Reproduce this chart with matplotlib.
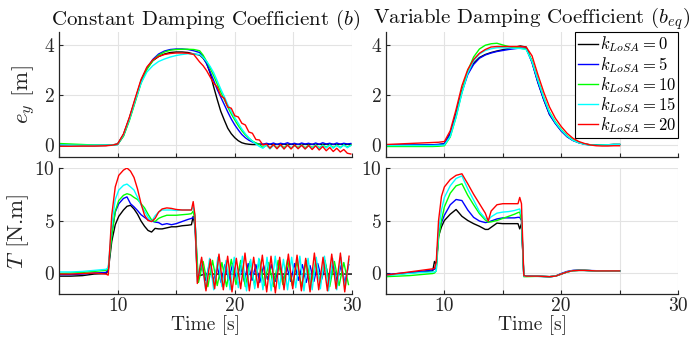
import numpy as np
import matplotlib
matplotlib.use("Agg")
import matplotlib.pyplot as plt

plt.rcParams.update({
    'font.family': 'serif',
    'font.serif': ['cmr10'],
    'mathtext.fontset': 'cm',
    'axes.formatter.use_mathtext': True,
    'axes.unicode_minus': False,
})

labels = [r'$k_{LoSA}=0$', r'$k_{LoSA}=5$', r'$k_{LoSA}=10$', r'$k_{LoSA}=15$', r'$k_{LoSA}=20$']
colors = ['#000000', '#0000ff', '#00ff00', '#00ffff', '#ff0000']
titles = [r'Constant Damping Coefficient ($b$)', r'Variable Damping Coefficient ($b_{eq}$)']

# ---------------- e_y, constant damping ----------------
t_ey_const = [5, 6, 7, 8, 9, 9.5, 10, 10.5, 11, 11.5, 12, 12.5, 13, 13.5, 14, 14.5, 15, 15.5, 16, 16.5,
              17.0, 17.3, 17.6, 17.9, 18.2, 18.5, 18.8, 19.1, 19.4, 19.7, 20.0, 20.3, 20.6, 20.9, 21.2,
              21.5, 21.8, 22.1, 22.4, 22.7, 23.0, 23.3, 23.6, 23.9, 24.2, 24.5, 24.8, 25.1, 25.4, 25.7,
              26.0, 26.3, 26.6, 26.9, 27.2, 27.5, 27.8, 28.1, 28.4, 28.7, 29.0, 29.3, 29.6, 29.9]
ey_const_k0 = [-0.05, -0.05, -0.05, -0.05, -0.04, -0.02, 0.02, 0.4, 1.05, 1.8, 2.55, 3.05, 3.35, 3.52, 3.62, 3.68, 3.70, 3.70, 3.68, 3.62,
               3.58, 3.45, 3.25, 2.85, 2.3, 1.8, 1.33, 0.98, 0.65, 0.43, 0.27, 0.15, 0.07, 0.03, 0.01, 0.0,
               0.0, 0.01, 0.01, 0.01, 0.01, 0.01, 0.01, 0.01, 0.01, 0.01, 0.01, 0.01, 0.01, 0.01,
               0.01, 0.01, 0.01, 0.01, 0.01, 0.01, 0.01, 0.01, 0.01, 0.01, 0.01, 0.01, 0.01, 0.01]
ey_const_k5 = [-0.02, -0.03, -0.03, -0.03, -0.03, -0.02, 0.0, 0.35, 1.0, 1.75, 2.5, 3.05, 3.4, 3.62, 3.74, 3.8, 3.82, 3.82, 3.8, 3.75,
               3.68, 3.5, 3.22, 2.9, 2.56, 2.2, 1.9, 1.6, 1.3, 1.02, 0.78, 0.58, 0.4, 0.27, 0.17, 0.1, 0.05, 0.02,
               0.0, 0.05, 0.01, 0.06, 0.0, 0.05, 0.02, 0.07, 0.01, 0.05, 0.0, 0.06, 0.02, 0.05, 0.0, 0.06,
               0.01, 0.07, 0.02, 0.05, 0.0, 0.06, 0.01, 0.05, 0.02, 0.04]
ey_const_k10 = [0.04, 0.02, 0.0, -0.02, -0.03, -0.02, 0.0, 0.33, 0.95, 1.7, 2.45, 3.0, 3.35, 3.57, 3.7, 3.77, 3.8, 3.81, 3.81, 3.8,
                3.75, 3.57, 3.32, 3.05, 2.75, 2.42, 2.1, 1.8, 1.5, 1.22, 0.98, 0.75, 0.55, 0.38, 0.25, 0.14, 0.06, 0.0,
                -0.12, -0.03, -0.14, -0.02, -0.13, -0.03, -0.12, -0.02, -0.14, -0.04, -0.12, -0.02, -0.13, -0.03,
                -0.12, -0.02, -0.13, -0.03, -0.11, -0.02, -0.12, -0.03, -0.12, -0.02, -0.1, -0.03]
ey_const_k15 = [-0.02, -0.03, -0.03, -0.03, -0.03, -0.02, 0.0, 0.38, 1.0, 1.75, 2.45, 2.9, 3.15, 3.32, 3.42, 3.5, 3.56, 3.6, 3.63, 3.62,
                3.6, 3.48, 3.32, 3.12, 2.87, 2.55, 2.22, 1.92, 1.6, 1.32, 1.07, 0.85, 0.62, 0.43, 0.27, 0.13, 0.02, -0.08,
                -0.15, -0.02, -0.18, -0.03, -0.16, -0.04, -0.17, -0.02, -0.15, -0.03, -0.16, -0.02, -0.17, -0.04,
                -0.15, -0.02, -0.16, -0.03, -0.14, -0.02, -0.15, -0.03, -0.14, -0.02, -0.13, -0.04]
ey_const_k20 = [-0.07, -0.07, -0.06, -0.06, -0.05, -0.03, 0.02, 0.42, 1.08, 1.85, 2.6, 3.1, 3.38, 3.52, 3.6, 3.64, 3.66, 3.66, 3.65, 3.6,
                3.3, 3.15, 2.95, 2.7, 2.45, 2.3, 1.95, 1.85, 1.5, 1.45, 1.15, 1.1, 0.85, 0.78, 0.5, 0.45, 0.2, 0.18,
                -0.02, 0.02, -0.15, 0.0, -0.17, 0.0, -0.18, -0.02, -0.18, -0.02, -0.17, -0.03, -0.18, -0.04,
                -0.2, -0.05, -0.22, -0.08, -0.25, -0.12, -0.28, -0.15, -0.3, -0.2, -0.35, -0.38]

# ---------------- e_y, variable damping ----------------
t_ey_var = [5, 6, 7, 8, 9, 9.5, 10, 10.5, 11, 11.5, 12, 12.5, 13, 13.5, 14, 14.5, 15, 15.5, 16, 16.5,
            17, 17.5, 18, 18.5, 19, 19.5, 20, 20.5, 21, 21.5, 22, 22.5, 23, 23.5, 24, 24.5, 25]
ey_var_k0 = [-0.03, -0.03, -0.03, -0.02, -0.01, 0.0, 0.03, 0.45, 1.25, 2.15, 2.85, 3.25, 3.48, 3.6, 3.68, 3.74, 3.79, 3.84, 3.89, 3.94,
             3.9, 3.3, 2.5, 1.8, 1.2, 0.85, 0.55, 0.32, 0.17, 0.08, 0.02, -0.01, -0.02, -0.02, -0.01, 0.0, 0.0]
ey_var_k5 = [-0.02, -0.02, -0.02, -0.02, -0.01, 0.0, 0.03, 0.42, 1.2, 2.1, 2.8, 3.2, 3.45, 3.58, 3.66, 3.72, 3.76, 3.8, 3.83, 3.86,
             3.85, 3.28, 2.48, 1.8, 1.2, 0.84, 0.54, 0.31, 0.16, 0.07, 0.01, -0.02, -0.02, -0.02, -0.01, 0.0, 0.0]
ey_var_k10 = [-0.08, -0.08, -0.08, -0.08, -0.08, -0.07, -0.05, 0.3, 1.1, 2.1, 2.95, 3.5, 3.82, 3.97, 4.03, 4.05, 3.98, 3.92, 3.88, 3.85,
              3.82, 3.35, 2.6, 1.9, 1.3, 0.9, 0.6, 0.35, 0.18, 0.08, 0.02, -0.02, -0.03, -0.02, -0.01, 0.0, 0.0]
ey_var_k15 = [-0.04, -0.04, -0.04, -0.04, -0.04, -0.03, -0.02, 0.32, 1.1, 2.05, 2.85, 3.35, 3.62, 3.76, 3.83, 3.87, 3.87, 3.86, 3.85, 3.84,
              3.8, 3.32, 2.58, 1.88, 1.28, 0.88, 0.58, 0.34, 0.17, 0.07, 0.01, -0.02, -0.03, -0.02, -0.01, 0.0, 0.0]
ey_var_k20 = [0.0, 0.02, 0.04, 0.06, 0.08, 0.09, 0.12, 0.55, 1.4, 2.35, 3.0, 3.4, 3.65, 3.8, 3.9, 3.92, 3.92, 3.92, 3.92, 3.92,
              3.9, 3.55, 2.8, 2.1, 1.5, 1.05, 0.72, 0.45, 0.25, 0.12, 0.04, -0.02, -0.05, -0.06, -0.06, -0.05, -0.05]

# ---------------- T, constant damping ----------------
t_T_const = [5, 6, 7, 8, 9, 9.2, 9.5, 9.8, 10.1, 10.5, 10.8, 11.1, 11.4, 11.7, 12, 12.3, 12.6, 12.9, 13.2, 13.5,
             13.8, 14.2, 14.6, 15, 15.5, 16, 16.3, 16.45, 16.6]
T_const_k0 = [-0.3, -0.3, -0.25, -0.1, -0.05, 0.2, 3.0, 4.6, 5.4, 6.0, 6.35, 6.45, 6.1, 5.6, 4.95, 4.45, 4.05, 3.9, 4.25, 4.2,
              4.2, 4.3, 4.4, 4.4, 4.5, 4.55, 4.6, 5.4, 4.5]
T_const_k5 = [-0.15, -0.15, -0.1, 0.0, 0.05, 0.3, 3.8, 5.8, 6.6, 7.1, 7.25, 6.6, 6.3, 5.95, 5.55, 5.3, 5.05, 4.95, 4.85, 4.8,
              4.6, 4.7, 4.6, 4.7, 4.9, 5.1, 5.2, 5.3, 5.0]
T_const_k10 = [-0.05, 0.0, 0.05, 0.15, 0.25, 0.4, 3.5, 5.9, 6.9, 7.4, 7.55, 7.45, 7.2, 7.0, 6.6, 6.2, 5.6, 5.05, 4.9, 5.2,
               5.35, 5.5, 5.5, 5.5, 5.55, 5.6, 5.65, 5.9, 5.0]
T_const_k15 = [0.1, 0.1, 0.15, 0.25, 0.35, 0.5, 4.5, 7.0, 7.9, 8.35, 8.47, 8.2, 7.9, 7.2, 6.5, 5.9, 5.3, 4.9, 5.45, 5.8,
               6.0, 6.0, 6.0, 5.95, 6.0, 6.0, 6.0, 6.3, 5.5]
T_const_k20 = [-0.1, -0.1, -0.05, 0.0, -0.1, -0.2, 5.5, 8.2, 9.3, 9.8, 10.0, 9.7, 9.1, 8.0, 6.6, 5.5, 5.0, 4.9, 5.2, 5.8,
               6.1, 6.2, 6.15, 6.05, 6.0, 6.0, 6.0, 6.8, 5.5]
# oscillating tails after the torque drop (each series sampled on its own time grid)
t_T_tail_k0 = [16.8, 17.5, 20, 25, 30]
T_tail_k0 = [-0.3, -0.1, -0.1, -0.1, -0.1]
t_T_tail_k5 = np.arange(16.85, 30.0, 0.33)
T_tail_k5 = [-0.5, 0.8, -0.7, 0.9, -0.8, 0.6, -0.9, 0.8, -0.7, 0.9, -0.6, 0.7, -0.8, 0.9, -0.7, 0.8, -0.9, 0.7, -0.6, 0.8,
             -0.8, 0.9, -0.7, 0.6, -0.8, 0.9, -0.7, 0.8, -0.9, 0.7, -0.8, 0.9, -0.6, 0.8, -0.7, 0.9, -0.8, 0.7, -0.9, 0.8]
t_T_tail_k10 = np.arange(16.9, 30.0, 0.4)
T_tail_k10 = [-0.9, 1.1, -1.3, 1.2, -1.2, 1.0, -1.3, 1.3, -1.1, 1.2, -1.3, 1.1, -1.2, 1.3, -1.2, 1.0, -1.3, 1.2, -1.1, 1.3,
              -1.2, 1.1, -1.3, 1.2, -1.2, 1.1, -1.0, 1.2, -1.3, 1.1, -1.2, 1.0, -1.1]
t_T_tail_k15 = np.arange(16.8, 30.0, 0.35)
T_tail_k15 = [-0.8, 1.3, -1.5, 1.4, -1.6, 1.5, -1.3, 1.2, -1.6, 1.5, -1.4, 1.6, -1.7, 1.3, -1.5, 1.4, -1.6, 1.5, -1.7, 1.6,
              -1.5, 1.3, -1.6, 1.5, -1.4, 1.6, -1.7, 1.4, -1.6, 1.5, -1.5, 1.6, -1.7, 1.4, -1.6, 1.5, -1.5, 1.3]
t_T_tail_k20 = np.arange(16.8, 30.0, 0.37)
T_tail_k20 = [-1.0, 1.5, -1.7, 1.3, -1.5, 1.8, -1.6, 1.6, -1.8, 1.4, -1.5, 1.9, -1.7, 1.5, -1.4, 1.7, -1.8, 1.6, -1.9, 1.5,
              -1.6, 1.8, -1.5, 1.7, -1.7, 1.4, -1.8, 1.9, -1.6, 1.5, -1.7, 1.8, -1.5, 1.9, -1.8, 1.6]

# ---------------- T, variable damping ----------------
t_T_var = [5, 6, 7, 8, 9, 9.15, 9.3, 9.5, 9.75, 10, 10.5, 11, 11.5, 12, 12.5, 13, 13.5, 13.75, 14, 14.5, 15, 15.5, 16,
           16.3, 16.45, 16.6, 16.8, 17, 18, 19, 19.5, 20, 20.5, 21, 21.5, 22, 23, 24, 25]
T_var_k0 = [-0.2, -0.1, 0.0, 0.1, 0.2, 1.1, 0.8, 3.5, 4.4, 5.0, 5.6, 6.05, 5.4, 5.0, 4.7, 4.45, 4.15, 4.15, 4.35, 4.75, 4.7, 4.7, 4.7,
            4.7, 4.2, 4.7, -0.3, -0.3, -0.3, -0.35, -0.3, -0.1, 0.1, 0.22, 0.25, 0.25, 0.2, 0.2, 0.2]
T_var_k5 = [-0.15, -0.05, 0.05, 0.15, 0.3, 0.35, 0.5, 3.8, 4.8, 5.5, 6.5, 7.0, 6.9, 6.0, 5.3, 4.95, 4.8, 4.85, 4.95, 5.15, 5.25, 5.25, 5.25,
            5.3, 5.3, 5.0, -0.3, -0.3, -0.32, -0.35, -0.3, -0.05, 0.15, 0.25, 0.27, 0.25, 0.22, 0.2, 0.2]
T_var_k10 = [-0.35, -0.3, -0.25, -0.15, -0.05, 0.0, 0.2, 3.3, 5.0, 6.3, 7.6, 8.3, 8.5, 7.4, 6.5, 5.65, 5.05, 4.85, 4.87, 5.0, 5.2, 5.4, 5.6,
             5.75, 5.8, 5.0, -0.35, -0.35, -0.32, -0.35, -0.3, -0.1, 0.1, 0.22, 0.25, 0.25, 0.2, 0.2, 0.2]
T_var_k15 = [-0.25, -0.15, -0.05, 0.05, 0.1, 0.1, 0.2, 4.0, 6.0, 7.2, 8.3, 9.0, 9.25, 8.0, 6.95, 5.85, 5.2, 5.05, 5.35, 5.7, 5.8, 5.85, 5.95,
             6.05, 6.1, 5.5, -0.3, -0.3, -0.3, -0.35, -0.3, -0.1, 0.1, 0.22, 0.25, 0.25, 0.2, 0.2, 0.2]
T_var_k20 = [-0.2, -0.05, 0.1, 0.25, 0.4, 0.45, 1.0, 5.0, 7.3, 8.2, 8.9, 9.3, 9.45, 8.5, 7.5, 6.6, 5.7, 4.95, 5.9, 6.5, 6.6, 6.6, 6.6,
             6.6, 7.2, 6.6, -0.25, -0.3, -0.3, -0.35, -0.3, -0.1, 0.1, 0.22, 0.25, 0.25, 0.2, 0.2, 0.2]

ey_const = [ey_const_k0, ey_const_k5, ey_const_k10, ey_const_k15, ey_const_k20]
ey_var = [ey_var_k0, ey_var_k5, ey_var_k10, ey_var_k15, ey_var_k20]
T_const = [T_const_k0, T_const_k5, T_const_k10, T_const_k15, T_const_k20]
T_tail_t = [t_T_tail_k0, t_T_tail_k5, t_T_tail_k10, t_T_tail_k15, t_T_tail_k20]
T_tail = [T_tail_k0, T_tail_k5, T_tail_k10, T_tail_k15, T_tail_k20]
T_var = [T_var_k0, T_var_k5, T_var_k10, T_var_k15, T_var_k20]

W, H = 693, 345
fig = plt.figure(figsize=(W / 100, H / 100), dpi=100)

def px_axes(x0, y0, x1, y1):
    return fig.add_axes([x0 / W, 1 - y1 / H, (x1 - x0) / W, (y1 - y0) / H])

ax_tl = px_axes(59, 32, 352, 157)
ax_tr = px_axes(386, 32, 678, 157)
ax_bl = px_axes(59, 168, 352, 294)
ax_br = px_axes(386, 168, 678, 294)

txt = '#262626'
for ax in (ax_tl, ax_tr, ax_bl, ax_br):
    ax.set_xlim(5, 30)
    ax.set_xticks([5, 10, 15, 20, 25, 30])
    for s in ('top', 'right'):
        ax.spines[s].set_visible(False)
    for s in ('left', 'bottom'):
        ax.spines[s].set_color(txt)
        ax.spines[s].set_linewidth(0.9)
    ax.grid(True, color='#e3e3e3', linewidth=0.8)
    ax.set_axisbelow(True)
    ax.tick_params(direction='in', length=3, width=0.8, colors=txt, labelsize=14, pad=3)
    ax.tick_params(axis='x', pad=2.5)

for ax in (ax_tl, ax_tr):
    ax.set_ylim(-0.5, 4.5)
    ax.set_yticks([0, 2, 4])
    ax.set_xticklabels([])
for ax in (ax_bl, ax_br):
    ax.set_ylim(-2, 10)
    ax.set_yticks([0, 5, 10])
    ax.set_xticklabels(['', '10', '', '20', '', '30'])
    ax.set_xlabel('Time [s]', fontsize=14, color=txt, labelpad=0)

for i in range(5):
    ax_tl.plot(t_ey_const, ey_const[i], color=colors[i], lw=1.0)
    ax_tr.plot(t_ey_var, ey_var[i], color=colors[i], lw=1.0, label=labels[i])
    tt = list(t_T_const) + list(T_tail_t[i])
    vv = list(T_const[i]) + list(T_tail[i])
    ax_bl.plot(tt, vv, color=colors[i], lw=1.0)
    ax_br.plot(t_T_var, T_var[i], color=colors[i], lw=1.0)

ax_tl.set_title(titles[0], fontsize=15, color='#111111', pad=5)
ax_tr.set_title(titles[1], fontsize=15, color='#111111', pad=5)
ax_tl.set_ylabel(r'$e_y$ [m]', fontsize=16.5, color=txt, labelpad=4)
ax_bl.set_ylabel(r'$T$ [N.m]', fontsize=16.5, color=txt, labelpad=2)

leg = ax_tr.legend(loc='upper right', fontsize=12, frameon=True, fancybox=False, framealpha=1,
                   edgecolor='#000000', handlelength=1.2, handletextpad=0.1, labelspacing=0.02,
                   borderpad=0.15, borderaxespad=0.0, bbox_to_anchor=(1.0, 1.0))
leg.get_frame().set_linewidth(0.8)

fig.savefig('out.png', dpi=100)
